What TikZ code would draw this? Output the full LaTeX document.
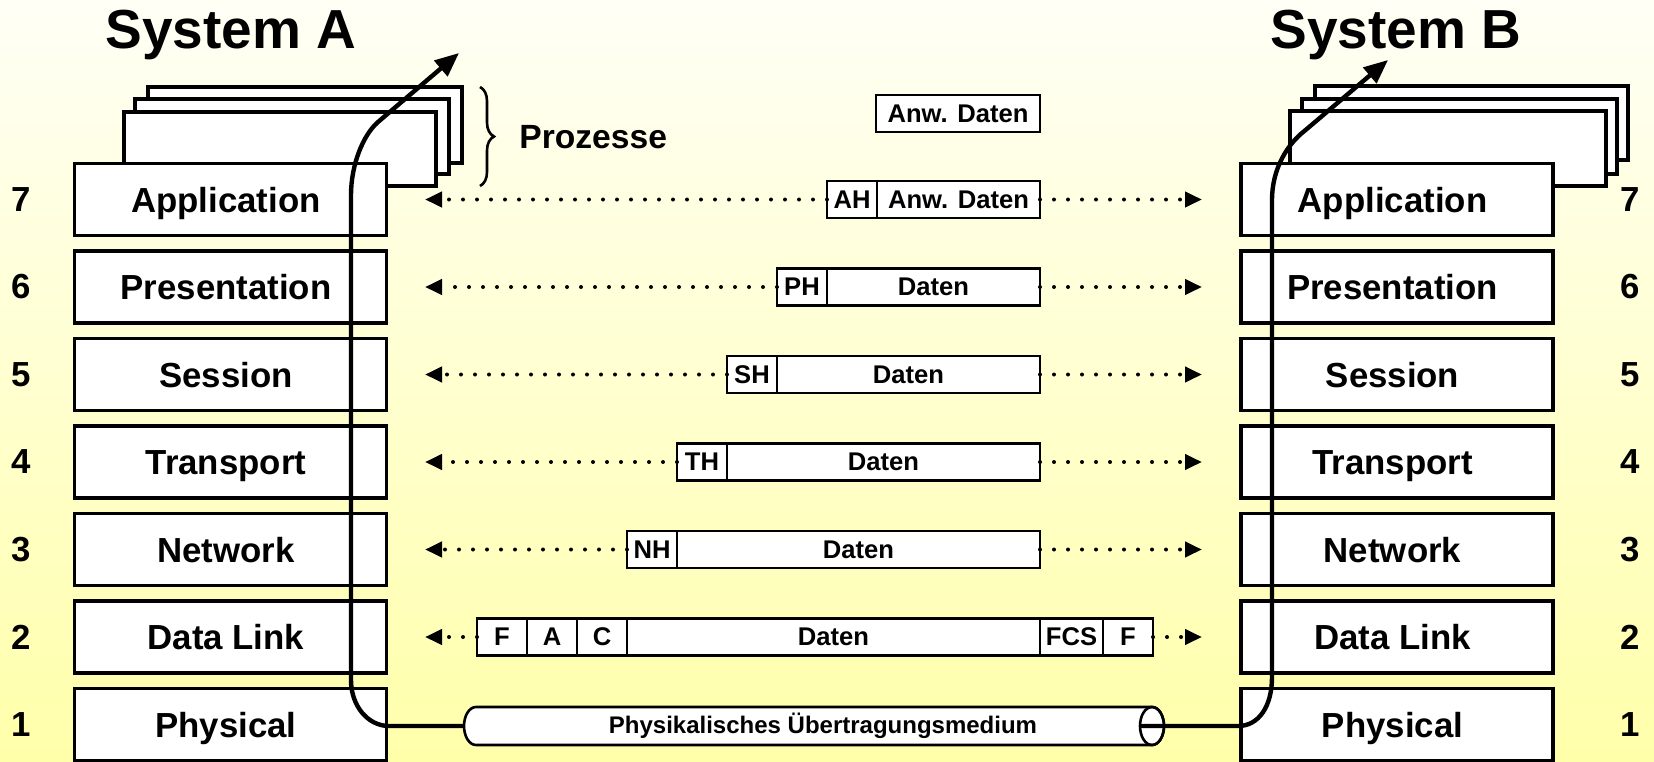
\documentclass[tikz,border=0pt]{standalone}
\usepackage{fontspec}
\setmainfont{Liberation Sans}
\usetikzlibrary{arrows.meta,decorations.pathreplacing}
\definecolor{bgtop}{HTML}{FFFFF6}
\definecolor{bgbot}{HTML}{FFFFAA}
\begin{document}
\begin{tikzpicture}[x=0.5pt,y=0.5pt,
  layer/.style={draw, line width=1.6pt, fill=white, minimum width=156pt, minimum height=36pt,
    inner sep=0pt, outer sep=0pt, text height=12.5pt, text depth=0pt,
    execute at end node={\hspace*{4.5pt}},
    font=\fontsize{17.4}{20}\selectfont\bfseries},
  num/.style={inner sep=0pt, font=\fontsize{17.4}{20}\selectfont\bfseries},
  proc/.style={draw, line width=1.6pt, fill=white},
  field/.style={draw, line width=1.3pt, fill=white, minimum height=18.5pt, inner sep=0pt,
    outer sep=0pt, anchor=east, font=\fontsize{12.8}{15}\selectfont\bfseries},
  fieldw/.style={minimum width=#1*0.5pt},
  peer/.style={line width=2pt, line cap=round, dash pattern=on 0pt off 7pt,
    -{Triangle[length=8.5pt,width=7.5pt]}},
  flow/.style={line width=2.2pt, -{Triangle[length=12pt,width=10pt]}},
  title/.style={inner sep=0pt, anchor=base, font=\fontsize{27.5}{31}\selectfont\bfseries}
]
% background
\shade[top color=bgtop, bottom color=bgbot] (0,0) rectangle (1654,-761);
\useasboundingbox (0,0) rectangle (1654,-761);

% titles
\node[title] (tA) at (231,-48) {System A};
\node[title] (tB) at (1396,-48) {System B};

% process stacks behind the application layer
\draw[proc] (148,-87) rectangle (462,-163);
\draw[proc] (135,-99) rectangle (449,-174);
\draw[proc] (124,-112) rectangle (436,-186);
\draw[proc] (1315,-86) rectangle (1628,-160);
\draw[proc] (1302,-99) rectangle (1617,-174);
\draw[proc] (1290,-111) rectangle (1606,-186);

% brace and label
\draw[line width=1.3pt, decorate, decoration={brace, amplitude=7pt}] (480,-87) -- (480,-186);
\node[anchor=west, inner sep=0pt, font=\fontsize{16.8}{19}\selectfont\bfseries] (proz) at (519,-137) {Prozesse};

% layer stacks
\foreach \n/\lab [count=\i from 0] in {7/Application,6/Presentation,5/Session,4/Transport,3/Network,2/Data Link,1/Physical}{
  \pgfmathsetmacro\yy{-(199.5+87.5*\i)}
  \node[layer] (l\n) at (230.5,\yy) {\lab};
  \node[layer] (r\n) at (1397,\yy) {\lab};
  \node[num] (nl\n) at (21,\yy) {\n};
  \node[num] (nr\n) at (1630,\yy) {\n};
}

% data units
\node[field, fieldw=164] (d0) at (1040,-113.5) {Anw. Daten};
\node[field, fieldw=163] (d7) at (1040,-199.5) {Anw. Daten};
\node[field, fieldw=50] (h7) at (d7.west) {AH};
\node[field, fieldw=213] (d6) at (1040,-287) {Daten};
\node[field, fieldw=50] (h6) at (d6.west) {PH};
\node[field, fieldw=263] (d5) at (1040,-374.5) {Daten};
\node[field, fieldw=50] (h5) at (d5.west) {SH};
\node[field, fieldw=313] (d4) at (1040,-462) {Daten};
\node[field, fieldw=50] (h4) at (d4.west) {TH};
\node[field, fieldw=363] (d3) at (1040,-549.5) {Daten};
\node[field, fieldw=50] (h3) at (d3.west) {NH};
\node[field, fieldw=413] (d2) at (1040,-637) {Daten};
\node[field, fieldw=50] (c2) at (d2.west) {C};
\node[field, fieldw=50] (a2) at (c2.west) {A};
\node[field, fieldw=50] (h2) at (a2.west) {F};
\node[field, fieldw=63, anchor=west] (fcs) at (d2.east) {FCS};
\node[field, fieldw=50, anchor=west] (e2) at (fcs.east) {F};

% peer-to-peer arrows
\foreach \n/\y/\r in {7/-199.5/d7,6/-287/d6,5/-374.5/d5,4/-462/d4,3/-549.5/d3,2/-637/e2}{
  \coordinate (pl\n) at (425,\y);
  \coordinate (pr\n) at (1202,\y);
  \draw[peer] (h\n.west) -- (pl\n);
  \draw[peer] (\r.east) -- (pr\n);
}

% transmission medium
\draw[line width=1.3pt, fill=white] (1152,-707) -- (476,-707)
  arc[start angle=90, end angle=270, x radius=6pt, y radius=9.5pt] -- (1152,-745)
  arc[start angle=-90, end angle=90, x radius=6pt, y radius=9.5pt] -- cycle;
\draw[line width=1.3pt] (1152,-726) ellipse [x radius=6pt, y radius=9.5pt];
\node[inner sep=0pt, font=\fontsize{12}{14}\selectfont\bfseries] (med) at (823,-726) {Physikalisches Übertragungsmedium};
\coordinate (medL) at (464,-726);
\coordinate (medR) at (1140,-726);
\coordinate (tipA) at (459,-53);
\coordinate (tipB) at (1388,-60);

% data flow through both systems
\draw[flow] (medL) -- (389,-726) .. controls (368,-726) and (351,-706) .. (351,-680)
  -- (351,-195) .. controls (351,-165) and (363,-135) .. (378,-122) -- (tipA);
\draw[flow] (medR) -- (1238,-726) .. controls (1259,-726) and (1272,-706) .. (1272,-677)
  -- (1272,-200) .. controls (1272,-168) and (1288,-143.5) .. (1305,-130.5) -- (tipB);
\end{tikzpicture}
\end{document}
